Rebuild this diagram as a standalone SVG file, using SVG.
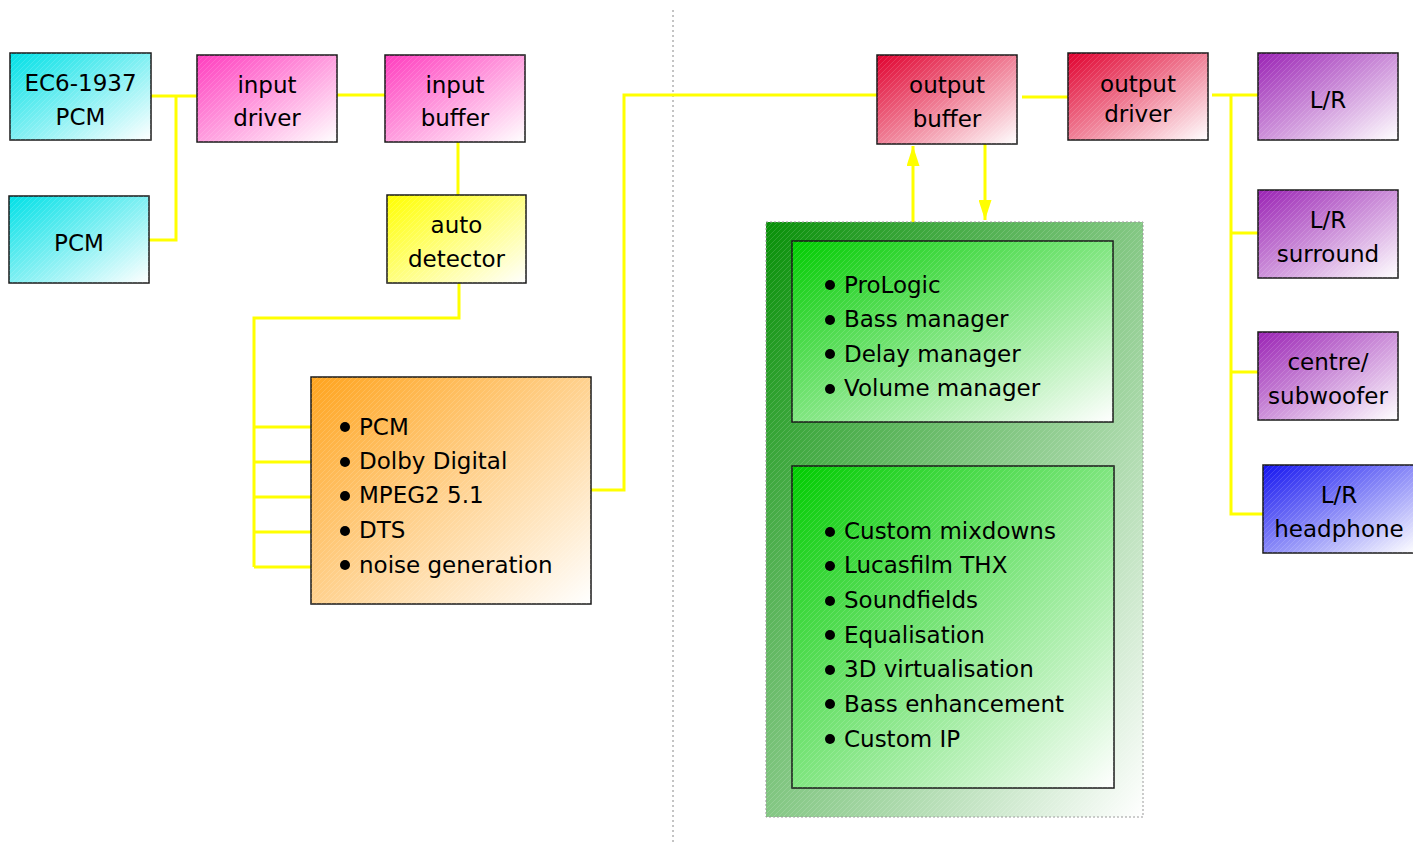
<svg xmlns="http://www.w3.org/2000/svg" width="1413" height="842" viewBox="0 0 1413 842">
<style>
.box{stroke:#1a1a1a;stroke-width:1.5}
.lbl{font-family:"DejaVu Sans","Liberation Sans",sans-serif;font-size:23px;fill:#000;text-anchor:middle}
.li{font-family:"DejaVu Sans","Liberation Sans",sans-serif;font-size:23px;fill:#000}
.w{stroke:#ffff00;stroke-width:3;fill:none}
.dot{fill:#000}
</style>
<defs>
<linearGradient id="gCyan" x1="0" y1="0" x2="1" y2="1"><stop offset="0" stop-color="#00e0e6"/><stop offset="1" stop-color="#ffffff"/></linearGradient>
<linearGradient id="gMag" x1="0" y1="0" x2="1" y2="1"><stop offset="0" stop-color="#ff3cbe"/><stop offset="1" stop-color="#ffffff"/></linearGradient>
<linearGradient id="gYel" x1="0" y1="0" x2="1" y2="1"><stop offset="0" stop-color="#ffff00"/><stop offset="1" stop-color="#ffffff"/></linearGradient>
<linearGradient id="gOra" x1="0" y1="0" x2="1" y2="1"><stop offset="0" stop-color="#ffa41e"/><stop offset="1" stop-color="#ffffff"/></linearGradient>
<linearGradient id="gRed" x1="0" y1="0" x2="1" y2="1"><stop offset="0" stop-color="#e0002e"/><stop offset="1" stop-color="#ffffff"/></linearGradient>
<linearGradient id="gPur" x1="0" y1="0" x2="1" y2="1"><stop offset="0" stop-color="#9a22b4"/><stop offset="1" stop-color="#ffffff"/></linearGradient>
<linearGradient id="gBlu" x1="0" y1="0" x2="1" y2="1"><stop offset="0" stop-color="#1414f0"/><stop offset="1" stop-color="#ffffff"/></linearGradient>
<linearGradient id="gGrnO" x1="0" y1="0" x2="1" y2="1"><stop offset="0" stop-color="#089008"/><stop offset="1" stop-color="#ffffff"/></linearGradient>
<linearGradient id="gGrnI" x1="0" y1="0" x2="1" y2="1"><stop offset="0" stop-color="#00cc00"/><stop offset="1" stop-color="#ffffff"/></linearGradient>
<pattern id="hatch" width="5" height="5" patternUnits="userSpaceOnUse">
<path d="M-1,1 L1,-1 M0,5 L5,0 M4,6 L6,4" stroke="#ffffff" stroke-opacity="0.18" stroke-width="0.8"/>
</pattern>
<marker id="ah" viewBox="0 0 20 13" refX="20" refY="6.5" markerWidth="20" markerHeight="13" markerUnits="userSpaceOnUse" orient="auto">
<path d="M0,0 L20,6.5 L0,13 Z" fill="#ffff00"/>
</marker>
</defs>
<rect width="1413" height="842" fill="#ffffff"/>
<line x1="673" y1="10" x2="673" y2="842" stroke="#888" stroke-width="1" stroke-dasharray="2,3"/>

<g id="connectors">
<path class="w" d="M151,96 H197 M176,96 V240 H149"/>
<path class="w" d="M337,95 H385"/>
<path class="w" d="M458,142 V195"/>
<path class="w" d="M459,283 V318 H254 V567 M254,427 H332 M254,462 H332 M254,497 H332 M254,532 H332 M254,567 H332"/>
<path class="w" d="M591,490 H624 V95 H877"/>
<path class="w" d="M913,222 V146" marker-end="url(#ah)"/>
<path class="w" d="M985,144 V220" marker-end="url(#ah)"/>
<path class="w" d="M1022,97 H1068"/>
<path class="w" d="M1212,95 H1258 M1231,95 V514 H1263 M1231,233 H1258 M1231,372 H1258"/>
</g>

<g id="n-ec6">
<rect class="box" x="10" y="53" width="141" height="87" fill="url(#gCyan)"/>
<rect x="10" y="53" width="141" height="87" fill="url(#hatch)"/>
<text class="lbl" x="80.5" y="91">EC6-1937</text>
<text class="lbl" x="80.5" y="125">PCM</text>
</g>
<g id="n-pcm">
<rect class="box" x="9" y="196" width="140" height="87" fill="url(#gCyan)"/>
<rect x="9" y="196" width="140" height="87" fill="url(#hatch)"/>
<text class="lbl" x="79" y="251">PCM</text>
</g>
<g id="n-indrv">
<rect class="box" x="197" y="55" width="140" height="87" fill="url(#gMag)"/>
<rect x="197" y="55" width="140" height="87" fill="url(#hatch)"/>
<text class="lbl" x="267" y="93">input</text>
<text class="lbl" x="267" y="126">driver</text>
</g>
<g id="n-inbuf">
<rect class="box" x="385" y="55" width="140" height="87" fill="url(#gMag)"/>
<rect x="385" y="55" width="140" height="87" fill="url(#hatch)"/>
<text class="lbl" x="455" y="93">input</text>
<text class="lbl" x="455" y="126">buffer</text>
</g>
<g id="n-auto">
<rect class="box" x="387" y="195" width="139" height="88" fill="url(#gYel)"/>
<rect x="387" y="195" width="139" height="88" fill="url(#hatch)"/>
<text class="lbl" x="456.5" y="233">auto</text>
<text class="lbl" x="456.5" y="267">detector</text>
</g>
<g id="n-formats">
<rect class="box" x="311" y="377" width="280" height="227" fill="url(#gOra)"/>
<rect x="311" y="377" width="280" height="227" fill="url(#hatch)"/>
<circle class="dot" cx="345" cy="427" r="5"/><text class="li" x="359" y="435">PCM</text>
<circle class="dot" cx="345" cy="462" r="5"/><text class="li" x="359" y="469">Dolby Digital</text>
<circle class="dot" cx="345" cy="496" r="5"/><text class="li" x="359" y="503">MPEG2 5.1</text>
<circle class="dot" cx="345" cy="531" r="5"/><text class="li" x="359" y="538">DTS</text>
<circle class="dot" cx="345" cy="565" r="5"/><text class="li" x="359" y="573">noise generation</text>
</g>
<g id="n-outbuf">
<rect class="box" x="877" y="55" width="140" height="89" fill="url(#gRed)"/>
<rect x="877" y="55" width="140" height="89" fill="url(#hatch)"/>
<text class="lbl" x="947" y="93">output</text>
<text class="lbl" x="947" y="127">buffer</text>
</g>
<g id="n-outdrv">
<rect class="box" x="1068" y="53" width="140" height="87" fill="url(#gRed)"/>
<rect x="1068" y="53" width="140" height="87" fill="url(#hatch)"/>
<text class="lbl" x="1138" y="92">output</text>
<text class="lbl" x="1138" y="122">driver</text>
</g>
<g id="n-dsp">
<rect x="766" y="222" width="377" height="595" fill="url(#gGrnO)" stroke="#999" stroke-width="1" stroke-dasharray="2,2"/>
<rect x="766" y="222" width="377" height="595" fill="url(#hatch)"/>
<g id="n-dsp1">
<rect class="box" x="792" y="241" width="321" height="181" fill="url(#gGrnI)"/>
<rect x="792" y="241" width="321" height="181" fill="url(#hatch)"/>
<circle class="dot" cx="830" cy="285" r="5"/><text class="li" x="844" y="293">ProLogic</text>
<circle class="dot" cx="830" cy="320" r="5"/><text class="li" x="844" y="327">Bass manager</text>
<circle class="dot" cx="830" cy="354" r="5"/><text class="li" x="844" y="362">Delay manager</text>
<circle class="dot" cx="830" cy="389" r="5"/><text class="li" x="844" y="396">Volume manager</text>
</g>
<g id="n-dsp2">
<rect class="box" x="792" y="466" width="322" height="322" fill="url(#gGrnI)"/>
<rect x="792" y="466" width="322" height="322" fill="url(#hatch)"/>
<circle class="dot" cx="830" cy="532" r="5"/><text class="li" x="844" y="539">Custom mixdowns</text>
<circle class="dot" cx="830" cy="566" r="5"/><text class="li" x="844" y="573">Lucasfilm THX</text>
<circle class="dot" cx="830" cy="601" r="5"/><text class="li" x="844" y="608">Soundfields</text>
<circle class="dot" cx="830" cy="635" r="5"/><text class="li" x="844" y="643">Equalisation</text>
<circle class="dot" cx="830" cy="670" r="5"/><text class="li" x="844" y="677">3D virtualisation</text>
<circle class="dot" cx="830" cy="704" r="5"/><text class="li" x="844" y="712">Bass enhancement</text>
<circle class="dot" cx="830" cy="739" r="5"/><text class="li" x="844" y="747">Custom IP</text>
</g>
</g>
<g id="n-lr">
<rect class="box" x="1258" y="53" width="140" height="87" fill="url(#gPur)"/>
<rect x="1258" y="53" width="140" height="87" fill="url(#hatch)"/>
<text class="lbl" x="1328" y="108">L/R</text>
</g>
<g id="n-lrs">
<rect class="box" x="1258" y="190" width="140" height="88" fill="url(#gPur)"/>
<rect x="1258" y="190" width="140" height="88" fill="url(#hatch)"/>
<text class="lbl" x="1328" y="228">L/R</text>
<text class="lbl" x="1328" y="262">surround</text>
</g>
<g id="n-csw">
<rect class="box" x="1258" y="332" width="140" height="88" fill="url(#gPur)"/>
<rect x="1258" y="332" width="140" height="88" fill="url(#hatch)"/>
<text class="lbl" x="1328" y="370">centre/</text>
<text class="lbl" x="1328" y="404">subwoofer</text>
</g>
<g id="n-hp">
<rect class="box" x="1263" y="465" width="152" height="88" fill="url(#gBlu)"/>
<rect x="1263" y="465" width="152" height="88" fill="url(#hatch)"/>
<text class="lbl" x="1339" y="503">L/R</text>
<text class="lbl" x="1339" y="537">headphone</text>
</g>
</svg>
